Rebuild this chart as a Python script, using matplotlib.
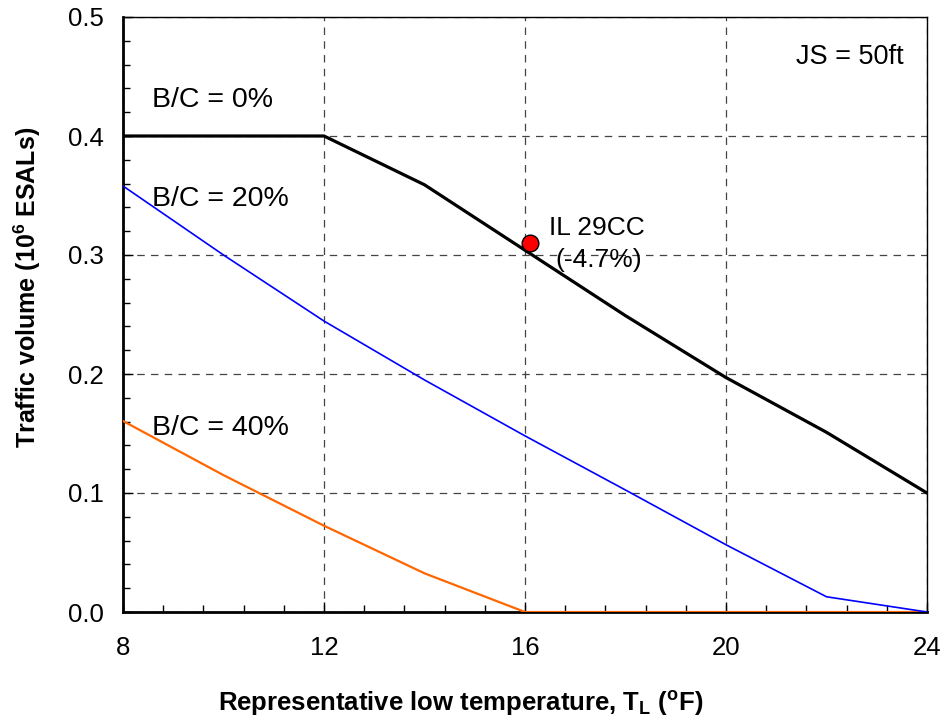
import matplotlib.pyplot as plt
from matplotlib.ticker import MultipleLocator

plt.rcParams['font.family'] = ['Liberation Sans', 'DejaVu Sans']
plt.rcParams['mathtext.default'] = 'regular'

# B/C = 0 %
t_bc0 = [8, 12, 14, 16, 18, 20, 22, 24]
v_bc0 = [0.4, 0.4, 0.359, 0.304, 0.249, 0.197, 0.151, 0.1]
# B/C = 20 %
t_bc20 = [8, 10, 12, 14, 16, 18, 20, 22, 24]
v_bc20 = [0.358, 0.300, 0.2445, 0.195, 0.148, 0.1025, 0.0565, 0.0128, 0.0]
# B/C = 40 %
t_bc40 = [8, 10, 12, 14, 16, 18, 20, 22, 24]
v_bc40 = [0.1605, 0.115, 0.0725, 0.0325, 0.0, 0.0, 0.0, 0.0, 0.0]

# измеренная точка
site_t = [16.09]
site_v = [0.310]

fig = plt.figure(figsize=(9.47, 7.25), dpi=100)
ax = fig.add_axes([123/947, 1 - 612/725, (927-123)/947, (612-17)/725])

ax.plot(t_bc40, v_bc40, color='#FF6600', lw=1.6, zorder=3)
ax.plot(t_bc20, v_bc20, color='#0000FF', lw=1.2, zorder=3)
ax.plot(t_bc0, v_bc0, color='black', lw=2.3, zorder=4)
ax.plot(site_t, site_v, 'o', ms=12, mfc='red', mec='black', mew=1, zorder=5, clip_on=False)

ax.text(8.58, 0.430, 'B/C = 0%', fontsize=20.5, va='center')
ax.text(8.58, 0.347, 'B/C = 20%', fontsize=20.5, va='center')
ax.text(8.58, 0.155, 'B/C = 40%', fontsize=20.5, va='center')
ax.text(16.48, 0.3227, 'IL 29CC', fontsize=19, va='center')
ax.text(16.6, 0.296, '(-4.7%)', fontsize=19, va='center')
ax.text(23.54, 0.466, 'JS = 50ft', fontsize=19.5, va='center', ha='right')

ax.set_xlim(8, 24)
ax.set_ylim(0, 0.5)
ax.xaxis.set_major_locator(MultipleLocator(4))
ax.xaxis.set_minor_locator(MultipleLocator(0.8))
ax.yaxis.set_minor_locator(MultipleLocator(0.02))
ax.set_yticks([0, 0.1, 0.2, 0.3, 0.4, 0.5])
ax.set_yticklabels(['0.0', '0.1', '0.2', '0.3', '0.4', '0.5'])
ax.tick_params(which='both', direction='in', labelsize=18.5, width=1)
ax.tick_params(which='major', length=7)
ax.tick_params(which='minor', length=5)
ax.tick_params(axis='x', which='major', pad=17)
ax.tick_params(axis='y', which='major', pad=14)
ax.grid(True, which='major', ls=(0, (6, 5)), color='#444444', lw=0.9)

for s in ['left', 'bottom']:
    ax.spines[s].set_linewidth(2)
for s in ['top', 'right']:
    ax.spines[s].set_linewidth(1)

ax.set_xlabel('Representative low temperature, T$_L$ ($^o$F)', fontsize=18.5, fontweight='bold')
ax.set_ylabel('Traffic volume (10$^6$ ESALs)', fontsize=18, fontweight='bold')
ax.xaxis.set_label_coords(0.42, -0.13)
ax.yaxis.set_label_coords(-0.099, 0.545)

fig.savefig('out.png', dpi=100)
